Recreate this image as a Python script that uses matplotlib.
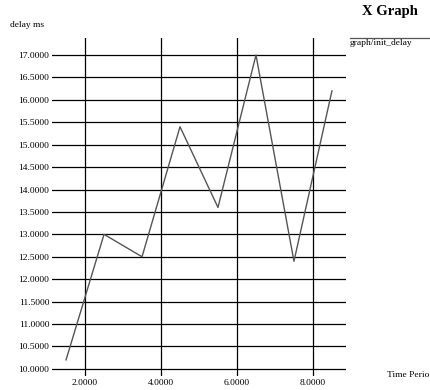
#!/usr/bin/env python3
import numpy as np
import matplotlib
matplotlib.use('Agg')
import matplotlib.pyplot as plt

# Mesures de délai
time_period = [1.5, 2.5, 3.5, 4.5, 5.5, 6.5, 7.5, 8.5]
delay_ms = [10.2, 13.0, 12.5, 15.4, 13.6, 17.0, 12.4, 16.2]

x_ticks = [2.0, 4.0, 6.0, 8.0]
y_ticks = [10.0, 10.5, 11.0, 11.5, 12.0, 12.5, 13.0, 13.5,
           14.0, 14.5, 15.0, 15.5, 16.0, 16.5, 17.0]


def main():
    plt.rcParams['font.family'] = ['Liberation Serif', 'DejaVu Serif']

    W, H = 431, 390
    fig = plt.figure(figsize=(W / 100, H / 100), dpi=100)
    ax = fig.add_axes([52 / W, 14 / H, 294 / W, 338 / H])

    ax.set_xlim(1.13, 8.87)
    ax.set_ylim(9.84, 17.38)

    # Grille noire
    for y in y_ticks:
        ax.axhline(y, color='black', lw=0.9, zorder=1)
    for x in x_ticks:
        ax.axvline(x, color='black', lw=0.9, zorder=1)

    ax.plot(time_period, delay_ms, color='#555555', lw=1.0, zorder=2)

    for s in ax.spines.values():
        s.set_visible(False)
    ax.set_xticks(x_ticks)
    ax.set_xticklabels([f'{v:.4f}' for v in x_ticks])
    ax.set_yticks(y_ticks)
    ax.set_yticklabels([f'{v:.4f}' for v in y_ticks])
    ax.tick_params(length=0, labelsize=6.8, pad=2)

    # Textes autour du graphe
    fig.text(390 / W, 1 - 12 / H, 'X Graph', ha='center', va='center',
             fontsize=10.5, fontweight='bold')
    fig.text(10 / W, 1 - 25 / H, 'delay ms', ha='left', va='center', fontsize=6.8)
    fig.text(387 / W, 1 - 375 / H, 'Time Perio', ha='left', va='center', fontsize=6.8)

    # Légende
    fig.add_artist(plt.Line2D([350 / W, 1.0], [1 - 38 / H, 1 - 38 / H],
                              color='#555555', lw=0.9, transform=fig.transFigure))
    fig.text(350 / W, 1 - 43 / H, 'graph/init_delay', ha='left', va='center',
             fontsize=6.8)

    fig.savefig('out.png', dpi=100)


if __name__ == "__main__":
    main()
